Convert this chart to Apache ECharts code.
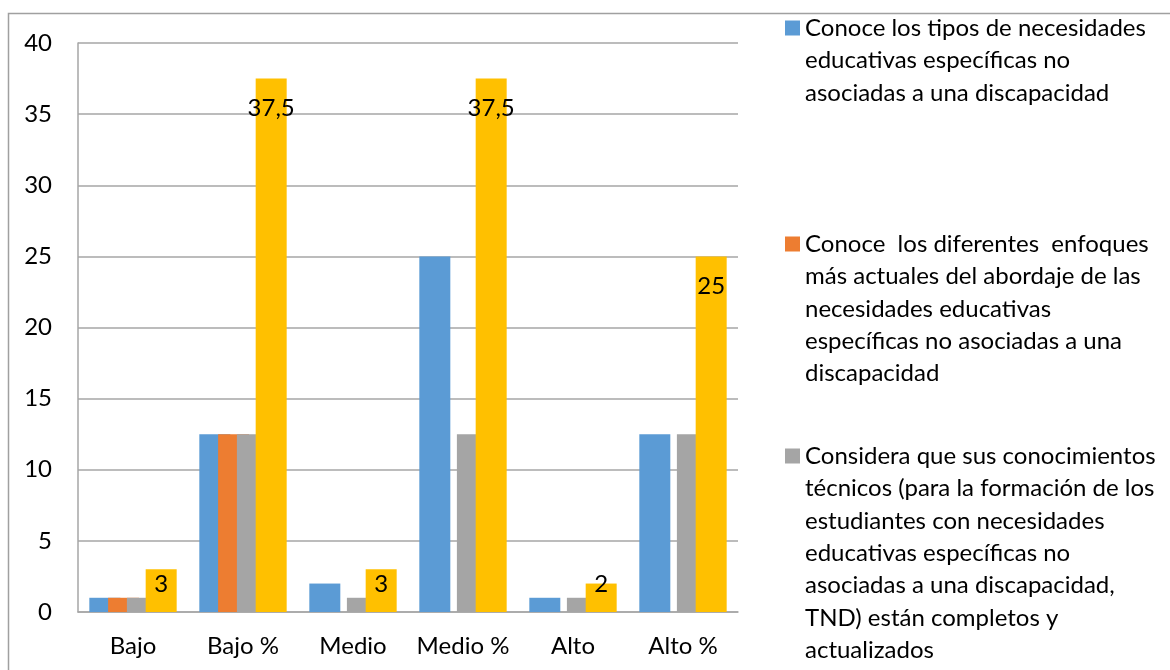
<!DOCTYPE html>
<html>
<head>
<meta charset="utf-8">
<script src="https://cdn.jsdelivr.net/npm/echarts@6/dist/echarts.min.js"></script>
<style>
html,body{margin:0;padding:0;background:#fff;}
#chart{width:1170px;height:670px;}
</style>
</head>
<body>
<div id="chart"></div>
<script>
var categories = ['Bajo', 'Bajo %', 'Medio', 'Medio %', 'Alto', 'Alto %'];
var seriesNames = [
  'Conoce los tipos de necesidades\neducativas específicas no\nasociadas a una discapacidad',
  'Conoce  los diferentes  enfoques\nmás actuales del abordaje de las\nnecesidades educativas\nespecíficas no asociadas a una\ndiscapacidad',
  'Considera que sus conocimientos\ntécnicos (para la formación de los\nestudiantes con necesidades\neducativas específicas no\nasociadas a una discapacidad,\nTND) están completos y\nactualizados',
  'Total'
];
var serie1 = [1, 12.5, 2, 25, 1, 12.5];
var serie2 = [1, 12.5, 0, 0, 0, 0];
var serie3 = [1, 12.5, 1, 12.5, 1, 12.5];
var serie4 = [3, 37.5, 3, 37.5, 2, 25];
var yTicks = { min: 0, max: 40, interval: 5 };

var colors = ['#5B9BD5', '#ED7D31', '#A5A5A5', '#FFC000'];
var FONT = 'Lato';
var FS = 24;
var LH = 32.4;

var chart = echarts.init(document.getElementById('chart'), null, { renderer: 'canvas' });

function labelled(values) {
  return values.map(function (v) {
    return {
      value: v,
      label: v > 10
        ? { position: 'insideTop', distance: 18 }
        : { position: 'insideBottom', distance: 16 }
    };
  });
}

var allValues = [serie1, serie2, serie3, serie4];
var series = allValues.map(function (vals, i) {
  var s = {
    name: seriesNames[i],
    type: 'bar',
    barWidth: 31,
    barGap: '-39.4%',
    itemStyle: { color: colors[i] },
    data: i === 3 ? labelled(vals) : vals.slice()
  };
  if (i === 3) {
    s.label = {
      show: true,
      color: '#000',
      fontFamily: FONT,
      fontSize: FS,
      formatter: function (p) { return String(p.value).replace('.', ','); }
    };
  }
  return s;
});

var legendCenters = [28, 244, 456];
var legends = [0, 1, 2].map(function (i) {
  var n = seriesNames[i].split('\n').length;
  var pad = new Array(n).join(' \n');
  return {
    data: [seriesNames[i]],
    orient: 'vertical',
    left: 785,
    top: legendCenters[i] - (2 * n - 1) * LH / 2,
    padding: 0,
    itemWidth: 15,
    itemHeight: 15,
    icon: 'rect',
    selectedMode: false,
    formatter: function (name) { return pad + name; },
    textStyle: {
      fontFamily: FONT,
      fontSize: FS,
      color: '#000',
      lineHeight: LH
    }
  };
});

chart.setOption({
  animation: false,
  backgroundColor: '#fff',
  color: colors,
  textStyle: { fontFamily: FONT },
  graphic: [{
    type: 'rect',
    shape: { x: 8.5, y: 13.5, width: 1200, height: 700 },
    style: { fill: 'none', stroke: '#a0a0a0', lineWidth: 1.5 },
    silent: true
  }],
  legend: legends,
  grid: { left: 78, top: 43, right: 432, bottom: 58, containLabel: false },
  xAxis: {
    type: 'category',
    data: categories,
    axisTick: { show: false },
    axisLine: { lineStyle: { color: '#a6a6a6', width: 1.5 } },
    axisLabel: { color: '#000', fontFamily: FONT, fontSize: FS, margin: 22, interval: 0 }
  },
  yAxis: {
    type: 'value',
    min: yTicks.min,
    max: yTicks.max,
    interval: yTicks.interval,
    axisLine: { show: true, lineStyle: { color: '#a6a6a6', width: 1.5 } },
    axisTick: { show: false },
    splitLine: { lineStyle: { color: '#a6a6a6', width: 1.5 } },
    axisLabel: { color: '#000', fontFamily: FONT, fontSize: FS, margin: 26 }
  },
  series: series
});
</script>
</body>
</html>
